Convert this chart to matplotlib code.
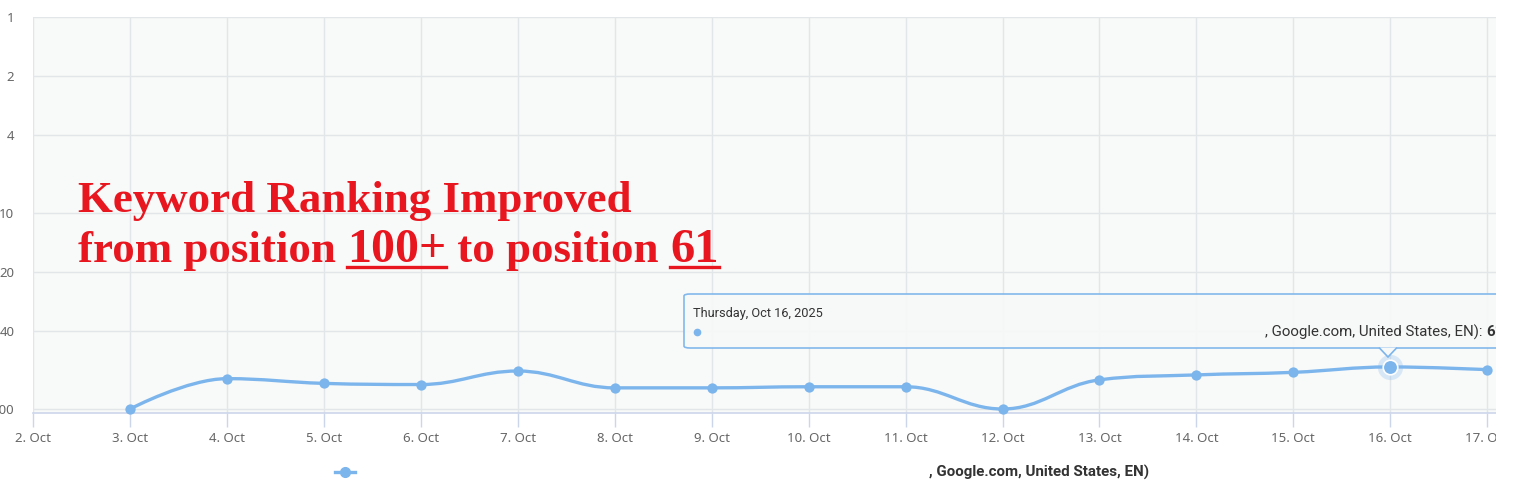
import numpy as np
import matplotlib
matplotlib.use("Agg")
import matplotlib.pyplot as plt
from matplotlib.path import Path
from matplotlib.patches import PathPatch, FancyBboxPatch, Polygon
from matplotlib.lines import Line2D

# Datos del gráfico (posición del keyword por día de octubre 2025)
dias = [3, 4, 5, 6, 7, 8, 9, 10, 11, 12, 13, 14, 15, 16, 17]
posiciones = [100, 70, 74, 75, 64, 78, 78, 77, 77, 100, 71, 67, 65, 61, 63]
ticks_x = list(range(2, 18))
etiquetas_x = [f"{d}. Oct" for d in ticks_x]
ticks_y = [1, 2, 4, 10, 20, 40, 100]

W, H = 1526, 500
AZUL = "#7cb5ec"
ROJO = "#e8161f"
GRIS_TXT = "#666666"
FUENTE = ["Roboto", "DejaVu Sans"]


def px(x, y):
    # coordenadas en pixeles -> fracción de figura
    return x / W, 1 - y / H


def curva_spline(xs, ys, suav=1.5):
    # spline al estilo Highcharts, calculada en espacio log
    ly = np.log10(ys)
    den = suav + 1
    verts = [(xs[0], ly[0])]
    codes = [Path.MOVETO]
    right = [None] * len(xs)
    for i in range(1, len(xs)):
        px_, py_ = xs[i], ly[i]
        lx, lyy = xs[i - 1], ly[i - 1]
        lcx, lcy = px_, py_
        if i < len(xs) - 1:
            nx, ny = xs[i + 1], ly[i + 1]
            lcx = (suav * px_ + lx) / den
            lcy = (suav * py_ + lyy) / den
            rcx = (suav * px_ + nx) / den
            rcy = (suav * py_ + ny) / den
            corr = (rcy - lcy) * (rcx - px_) / (rcx - lcx) + py_ - rcy
            lcy += corr
            rcy += corr
            if lcy > lyy and lcy > py_:
                lcy = max(lyy, py_)
                rcy = 2 * py_ - lcy
            elif lcy < lyy and lcy < py_:
                lcy = min(lyy, py_)
                rcy = 2 * py_ - lcy
            if rcy > ny and rcy > py_:
                rcy = max(ny, py_)
                lcy = 2 * py_ - rcy
            elif rcy < ny and rcy < py_:
                rcy = min(ny, py_)
                lcy = 2 * py_ - rcy
            right[i] = (rcx, rcy)
        prev = right[i - 1] if right[i - 1] is not None else (lx, lyy)
        verts += [prev, (lcx, lcy), (px_, py_)]
        codes += [Path.CURVE4] * 3
    verts = [(x, 10 ** y) for x, y in verts]
    return Path(verts, codes)


fig = plt.figure(figsize=(W / 100, H / 100), dpi=100)
fig.patch.set_facecolor("white")
renderer = fig.canvas.get_renderer()

x0, x1 = 33, 1496
y0, y1 = 17, 413
ax = fig.add_axes([x0 / W, 1 - y1 / H, (x1 - x0) / W, (y1 - y0) / H])
ax.set_facecolor("#f8f9f9")
ax.set_yscale("log")
ax.set_ylim(104.8, 1)
ax.set_xlim(2, 17.09)

ax.set_yticks(ticks_y)
ax.set_yticklabels([str(v) for v in ticks_y])
ax.yaxis.set_minor_locator(matplotlib.ticker.NullLocator())
ax.set_xticks(ticks_x)
ax.set_xticklabels(etiquetas_x)
ax.tick_params(axis="y", length=0, pad=13.5, labelsize=9.5, labelcolor=GRIS_TXT)
ax.tick_params(axis="x", length=10, width=1, color="#ccd6eb", pad=4,
               labelsize=9.5, labelcolor=GRIS_TXT)
for lab in ax.get_xticklabels() + ax.get_yticklabels():
    lab.set_fontfamily("Noto Sans")

ax.grid(True, color="#e3e6e8", linewidth=1)
ax.set_axisbelow(True)
for lado in ["top", "right", "left"]:
    ax.spines[lado].set_visible(False)
ax.spines["bottom"].set_color("#ccd6eb")
ax.spines["bottom"].set_linewidth(1.2)

# línea suavizada y puntos
ax.add_patch(PathPatch(curva_spline(dias, posiciones), facecolor="none",
                       edgecolor=AZUL, linewidth=2.4, zorder=3,
                       clip_on=False))
ax.scatter(dias, posiciones, s=55, color=AZUL, zorder=4, clip_on=False,
           linewidths=0)
# punto resaltado (16 Oct)
i16 = dias.index(16)
ax.scatter([16], [posiciones[i16]], s=330, color=AZUL, alpha=0.25,
           zorder=4, linewidths=0, clip_on=False)
ax.scatter([16], [posiciones[i16]], s=110, color=AZUL, zorder=5,
           edgecolors="white", linewidths=1.2, clip_on=False)

# tooltip
tx0, ty0, tx1, ty1 = 684, 294, 1515, 348
caja = FancyBboxPatch(px(tx0, ty1), (tx1 - tx0) / W, (ty1 - ty0) / H,
                      boxstyle="round,pad=0,rounding_size=0.004",
                      transform=fig.transFigure, facecolor="#f7f8f8",
                      edgecolor=AZUL, linewidth=1.2, alpha=0.95, zorder=10)
fig.add_artist(caja)
pico = Polygon([px(1379, ty1 - 0.5), px(1388, 357), px(1397, ty1 - 0.5)],
               closed=False, transform=fig.transFigure, facecolor="#f7f8f8",
               edgecolor=AZUL, linewidth=1.2, zorder=11)
fig.add_artist(pico)
fig.text(*px(693, 314), "Thursday, Oct 16, 2025", fontsize=9.2,
         color="#333333", va="center", family=FUENTE, zorder=12)
fig.add_artist(Line2D(*zip(px(697, 332)), marker="o", markersize=4.5,
                      color=AZUL, transform=fig.transFigure, zorder=12))
t = fig.text(*px(1265, 332), ", Google.com, United States, EN): ", fontsize=10.8,
             color="#333333", va="center", family=FUENTE, zorder=12)
bb = t.get_window_extent(renderer)
fig.text(bb.x1 / W, 1 - 332 / H, "61", fontsize=10.8, color="#333333",
         va="center", weight="bold", family=FUENTE, zorder=12)

# leyenda
fig.add_artist(Line2D([335 / W, 355 / W], [1 - 472 / H] * 2, color=AZUL,
                      linewidth=2.4, transform=fig.transFigure))
fig.add_artist(Line2D([345 / W], [1 - 472 / H], marker="o", markersize=7,
                      color=AZUL, transform=fig.transFigure))
fig.text(*px(929, 472), ", Google.com, United States, EN)", fontsize=10.9,
         color="#333333", va="center", weight="bold", family=FUENTE)

# recorte a la derecha (el original está cortado)
fig.add_artist(plt.Rectangle((x1 / W, 0), 1, 1, transform=fig.transFigure,
                             facecolor="white", edgecolor="none", zorder=20))

# texto rojo con subrayados
estilo = dict(color=ROJO, weight="bold", family="Liberation Serif",
              va="baseline", zorder=15)
fig.text(*px(78, 212), "Keyword Ranking Improved", fontsize=32.3, **estilo)
partes = [("from position ", 32.3, False), ("100+", 34.5, True),
          (" to position ", 32.3, False), ("61", 35, True)]
xc = 78
for txt, tam, sub in partes:
    t = fig.text(*px(xc, 262), txt, fontsize=tam, **estilo)
    bb = t.get_window_extent(renderer)
    if sub:
        fig.add_artist(Line2D([bb.x0 / W, bb.x1 / W], [1 - 267 / H] * 2,
                              color=ROJO, linewidth=2.4,
                              transform=fig.transFigure, zorder=15))
    xc += bb.width

fig.savefig("out.png", dpi=100)
